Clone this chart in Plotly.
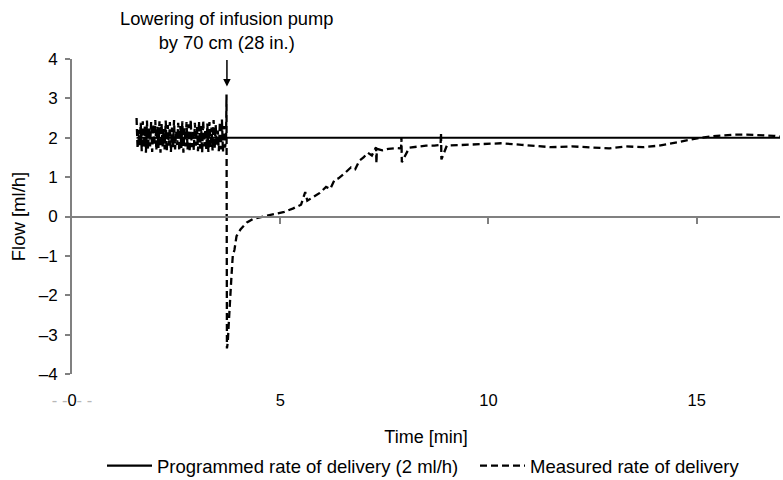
import plotly.graph_objects as go

# Programmed infusion rate (ml/h)
prog_t = [1.55, 17.0]
prog_y = [2.0, 2.0]

# Measured delivery before lowering the pump: rapid oscillation around 2 ml/h
pre_t = [1.550, 1.575, 1.600, 1.625, 1.650, 1.675, 1.700, 1.725, 1.750, 1.775,
         1.800, 1.825, 1.850, 1.875, 1.900, 1.925, 1.950, 1.975, 2.000, 2.025,
         2.050, 2.075, 2.100, 2.125, 2.150, 2.175, 2.200, 2.225, 2.250, 2.275,
         2.300, 2.325, 2.350, 2.375, 2.400, 2.425, 2.450, 2.475, 2.500, 2.525,
         2.550, 2.575, 2.600, 2.625, 2.650, 2.675, 2.700, 2.725, 2.750, 2.775,
         2.800, 2.825, 2.850, 2.875, 2.900, 2.925, 2.950, 2.975, 3.000, 3.025,
         3.050, 3.075, 3.100, 3.125, 3.150, 3.175, 3.200, 3.225, 3.250, 3.275,
         3.300, 3.325, 3.350, 3.375, 3.400, 3.425, 3.450, 3.475, 3.500, 3.525,
         3.550, 3.575, 3.600, 3.625, 3.650, 3.675]
pre_y = [2.50, 1.72, 2.20, 1.80, 2.38, 1.66, 2.42, 1.75, 2.30, 1.62,
         2.44, 1.70, 2.25, 1.78, 2.40, 1.64, 2.35, 1.80, 2.45, 1.68,
         2.28, 1.74, 2.42, 1.62, 2.36, 1.78, 2.22, 1.70, 2.44, 1.66,
         2.32, 1.80, 2.40, 1.64, 2.26, 1.76, 2.45, 1.70, 2.18, 1.82,
         2.38, 1.66, 2.30, 1.74, 2.42, 1.62, 2.24, 1.78, 2.40, 1.70,
         2.34, 1.64, 2.46, 1.76, 2.20, 1.68, 2.38, 1.80, 2.28, 1.66,
         2.42, 1.72, 2.30, 1.62, 2.44, 1.78, 2.22, 1.70, 2.36, 1.64,
         2.40, 1.76, 2.26, 1.68, 2.45, 1.72, 2.32, 1.80, 2.18, 1.66,
         2.40, 1.70, 2.46, 1.64, 2.30, 1.75]

# Measured delivery after lowering: spike, back-flow and slow recovery
post_t = [3.70, 3.71, 3.72, 3.74, 3.76, 3.78, 3.80, 3.83, 3.86, 3.90,
          3.95, 4.05, 4.20, 4.35, 4.50, 4.70, 4.90, 5.10, 5.30, 5.50,
          5.60, 5.65, 5.80, 5.95, 6.10, 6.20, 6.30, 6.40, 6.55, 6.70,
          6.80, 6.90, 7.00, 7.10, 7.20, 7.30, 7.31, 7.32, 7.45, 7.60,
          7.80, 7.90, 7.91, 7.92, 8.10, 8.30, 8.50, 8.70, 8.85, 8.86,
          8.87, 9.00, 9.50, 10.00, 10.30, 10.80, 11.20, 11.50, 12.00, 12.40,
          12.90, 13.30, 13.70, 14.10, 14.50, 14.80, 15.10, 15.30, 15.60, 15.90,
          16.20, 16.50, 16.85, 17.00]
post_y = [2.00, 3.10, -3.35, -3.20, -2.80, -2.20, -2.05, -1.50, -1.00, -0.85,
          -0.50, -0.32, -0.15, -0.06, -0.02, 0.03, 0.08, 0.12, 0.20, 0.30,
          0.62, 0.40, 0.50, 0.60, 0.75, 0.70, 0.92, 0.97, 1.10, 1.25,
          1.20, 1.42, 1.50, 1.62, 1.55, 1.76, 1.35, 1.72, 1.68, 1.72,
          1.74, 1.73, 2.00, 1.38, 1.75, 1.78, 1.80, 1.80, 1.82, 2.12,
          1.45, 1.80, 1.82, 1.85, 1.86, 1.82, 1.78, 1.76, 1.78, 1.76,
          1.73, 1.78, 1.76, 1.80, 1.88, 1.95, 2.00, 2.03, 2.06, 2.08,
          2.08, 2.07, 2.05, 2.03]

meas_t = pre_t + post_t
meas_y = pre_y + post_y

x_ticks = [0, 5, 10, 15]
y_ticks = [-4, -3, -2, -1, 0, 1, 2, 3, 4]

FONT = "Liberation Sans, Arial, sans-serif"
AXIS_GREY = "#808080"
FAINT = "#b8b8b8"

x_ticktext = [
    (f"<span style='color:{FAINT}'>- -</span>0<span style='color:{FAINT}'>- -</span>"
     if v == 0 else str(v))
    for v in x_ticks
]
y_ticktext = [("\u2013" + str(-v)) if v < 0 else str(v) for v in y_ticks]

fig = go.Figure()

fig.add_trace(go.Scatter(
    x=prog_t, y=prog_y, mode="lines",
    name="Programmed rate of delivery (2 ml/h)",
    line=dict(color="black", width=2.2),
    legend="legend",
))
fig.add_trace(go.Scatter(
    x=meas_t, y=meas_y, mode="lines",
    name="Measured rate of delivery",
    line=dict(color="black", width=2.3, dash="7px,4px"),
    legend="legend2",
))
# invisible trace carrying the zero-line axis with downward ticks
fig.add_trace(go.Scatter(x=[0, 17], y=[0, 0], mode="lines", xaxis="x2",
                         line=dict(width=0), showlegend=False, hoverinfo="skip"))

legend_style = dict(
    orientation="h", xanchor="left", yanchor="middle",
    yref="container", y=(480 - 466) / 480,
    itemwidth=45, font=dict(family=FONT, size=18.5, color="black"),
    bgcolor="rgba(0,0,0,0)", borderwidth=0,
)

fig.update_layout(
    width=783, height=480,
    margin=dict(l=72, r=3, t=59, b=106),
    paper_bgcolor="white", plot_bgcolor="white",
    font=dict(family=FONT, size=16, color="black"),
    xaxis=dict(
        range=[0, 17], tickvals=x_ticks, ticktext=x_ticktext,
        showline=False, showgrid=False, zeroline=False, ticks="",
        ticklabelstandoff=14, tickfont=dict(size=16.5),
        title=dict(text="Time [min]", standoff=22, font=dict(size=18)),
    ),
    xaxis2=dict(
        range=[0, 17], overlaying="x", anchor="free", position=0.5,
        tickvals=x_ticks[1:], showticklabels=False, ticks="outside",
        ticklen=6, tickwidth=1.5, tickcolor=AXIS_GREY,
        showline=True, linecolor=AXIS_GREY, linewidth=2,
        showgrid=False, zeroline=False,
    ),
    yaxis=dict(
        range=[-4, 4], tickvals=y_ticks, ticktext=y_ticktext,
        showline=True, linecolor=AXIS_GREY, linewidth=2,
        ticks="outside", ticklen=5, tickwidth=1.5, tickcolor=AXIS_GREY,
        ticklabelstandoff=4, tickfont=dict(size=17),
        showgrid=False, zeroline=False,
        title=dict(text="Flow [ml/h]", standoff=8, font=dict(size=18.5)),
    ),
    legend=dict(x=(102 - 72) / 708, **legend_style),
    legend2=dict(x=(475 - 72) / 708, **legend_style),
    showlegend=True,
)

# arrow marking the moment the pump is lowered
fig.add_annotation(x=3.72, y=3.3, xref="x", yref="y", text="",
                   showarrow=True, arrowhead=2, arrowsize=1, arrowwidth=1.5,
                   arrowcolor="black", ax=0, ay=-28)
fig.add_annotation(x=3.72, y=1 + 4 / 315, xref="x", yref="paper",
                   text="Lowering of infusion pump<br>by 70 cm (28 in.)",
                   showarrow=False, xanchor="center", yanchor="bottom",
                   font=dict(family=FONT, size=18.3))

fig.write_html("out.html")
